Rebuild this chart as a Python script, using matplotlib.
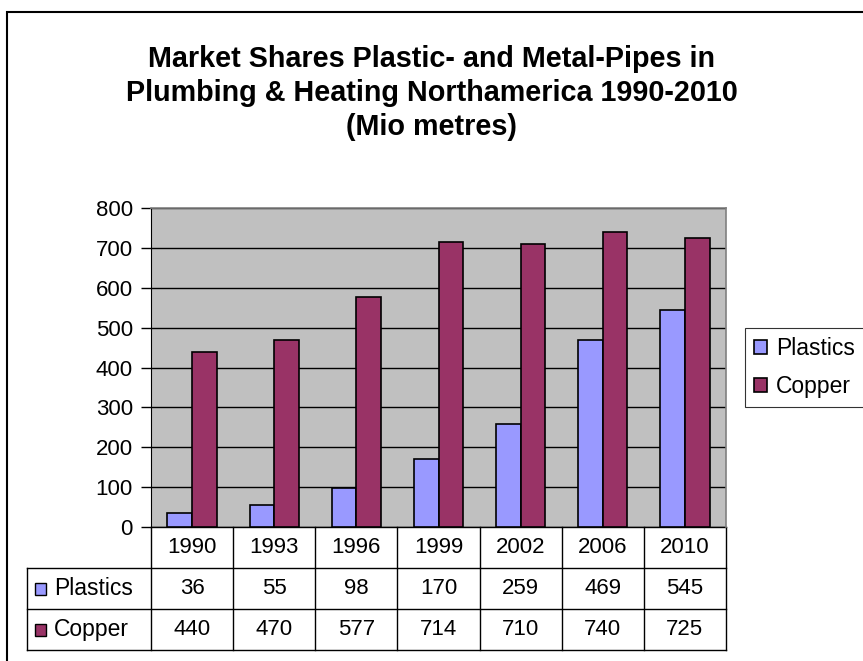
import numpy as np
import matplotlib.pyplot as plt
from matplotlib.patches import Rectangle

plt.rcParams['font.family'] = ['Liberation Sans', 'DejaVu Sans']

# data
years = ['1990', '1993', '1996', '1999', '2002', '2006', '2010']
plastics = [36, 55, 98, 170, 259, 469, 545]
copper = [440, 470, 577, 714, 710, 740, 725]
series_names = ['Plastics', 'Copper']
colors = ['#9999FF', '#993366']

fig = plt.figure(figsize=(8.63, 6.61), dpi=100)

# outer chart frame (runs off the right/bottom edge like the original)
fig.patches.append(Rectangle((7 / 863, -0.1), 1.2, 1 - 12 / 661 + 0.1,
                             transform=fig.transFigure, fill=False,
                             edgecolor='black', linewidth=1.5))

ax = fig.add_axes([151 / 863, 1 - 527 / 661, 575 / 863, 319 / 661])
ax.set_facecolor('#C0C0C0')

x = np.arange(len(years))
w = 0.3
ax.bar(x - w / 2, plastics, w, color=colors[0], edgecolor='black',
       linewidth=1.2, label=series_names[0], zorder=3)
ax.bar(x + w / 2, copper, w, color=colors[1], edgecolor='black',
       linewidth=1.2, label=series_names[1], zorder=3)

ax.set_xlim(-0.5, len(years) - 0.5)
ax.set_ylim(0, 800)
ax.set_yticks(np.arange(0, 801, 100))
ax.set_xticks([])
ax.yaxis.grid(True, color='black', linewidth=1)
ax.set_axisbelow(True)
ax.tick_params(axis='y', labelsize=16, length=7, width=1, pad=6)
for s in ['top', 'right']:
    ax.spines[s].set_color('#808080')
    ax.spines[s].set_linewidth(1.2)
ax.spines['left'].set_color('black')
ax.spines['bottom'].set_visible(False)

# title
fig.text(0.5, 1 - 93 / 661,
         'Market Shares Plastic- and Metal-Pipes in\n'
         'Plumbing & Heating Northamerica 1990-2010\n(Mio metres)',
         ha='center', va='center', fontsize=20.7, fontweight='bold',
         linespacing=1.28)

# data table under the plot
n = len(years)
rh = 0.3856 / 3
lab_x0 = (27 - 151) / 575
lc = dict(color='black', linewidth=1, clip_on=False, transform=ax.transAxes)
rows = [plastics, copper]
ax.plot([0, 1], [0, 0], **lc)
for k in range(1, 4):
    ax.plot([lab_x0, 1], [-k * rh, -k * rh], **lc)
ax.plot([lab_x0, lab_x0], [-rh, -3 * rh], **lc)
for i in range(n + 1):
    ax.plot([i / n, i / n], [0, -3 * rh], **lc)
for i, yr in enumerate(years):
    ax.text((i + 0.5) / n, -0.5 * rh, yr, transform=ax.transAxes,
            ha='center', va='center', fontsize=16)
for r, vals in enumerate(rows):
    yc = -(r + 1.5) * rh
    for i, v in enumerate(vals):
        ax.text((i + 0.5) / n, yc, str(v), transform=ax.transAxes,
                ha='center', va='center', fontsize=16)
    ax.add_patch(Rectangle((lab_x0 + 8 / 575, yc - 6 / 319), 11 / 575, 12 / 319,
                           transform=ax.transAxes, clip_on=False,
                           facecolor=colors[r], edgecolor='black', linewidth=1))
    ax.text(lab_x0 + 27 / 575, yc, series_names[r], transform=ax.transAxes,
            ha='left', va='center', fontsize=16.5)

# legend
leg = ax.legend(loc='upper left', bbox_to_anchor=(745 / 863, 1 - 328 / 661),
                bbox_transform=fig.transFigure, fontsize=16.5, frameon=True,
                fancybox=False, edgecolor='black', handlelength=0.55,
                handleheight=0.55, handletextpad=0.4, borderpad=0.4,
                labelspacing=0.65, borderaxespad=0)
leg.get_frame().set_linewidth(0.8)

fig.savefig('out.png', dpi=100)
